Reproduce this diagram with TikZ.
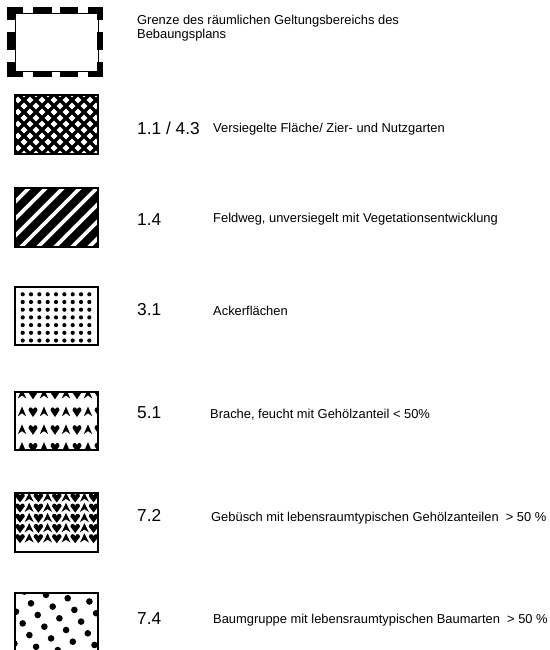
\documentclass[tikz,border=0pt]{standalone}
\usepackage{fontspec}
\setmainfont{Liberation Sans}
\usetikzlibrary{positioning}

\begin{document}
\begin{tikzpicture}[x=1pt,y=-1pt,
    legrand/.style={line width=1.2pt},
    nr/.style={anchor=base west,inner sep=0pt,font=\fontsize{17.3}{20}\selectfont},
    txt/.style={anchor=base west,inner sep=0pt,align=left,
      font=\fontsize{12.9}{13.4}\selectfont},
    spitze/.pic={\fill (0,-3.5) -- (2.8,3) -- (0,1) -- (-2.8,3) -- cycle;},
    herz/.pic={\fill (0,3.5) -- (-3,-1) .. controls (-3,-3.5) and (-0.5,-3.5) .. (0,-1.5)
      .. controls (0.5,-3.5) and (3,-3.5) .. (3,-1) -- cycle;}
  ]
  \useasboundingbox (0,0) rectangle (549,650);

  % Grenze des Geltungsbereichs
  \draw[line width=0.8pt] (15,13) rectangle (98,71);
  \foreach \a/\b in {7/23,33/52,60/78,88/103} {
    \fill (\a,7) rectangle (\b,13);
    \fill (\a,71) rectangle (\b,77);
  }
  \foreach \a/\b in {7/20,32/50,62/77} {
    \fill (7,\a) rectangle (15,\b);
    \fill (97,\a) rectangle (103,\b);
  }
  \node[txt] (grenze) at (137,38.3)
    {Grenze des räumlichen Geltungsbereichs des\\Bebaungsplans};

  % 1.1 / 4.3 Kreuzschraffur
  \begin{scope}
    \clip (15,95) rectangle (98,154);
    \foreach \a in {-60,-48,...,180} {
      \draw[line width=3.2pt] (\a,160) -- ++(70,-70);
      \draw[line width=3.2pt] (\a,160) -- ++(-70,-70);
    }
  \end{scope}
  \draw[line width=1.6pt] (15,95) rectangle (98,154);
  \node[nr] (n11) at (137,134.3) {1.1 / 4.3};
  \node[txt] (versiegelt) at (213,132.3) {Versiegelte Fläche/ Zier- und Nutzgarten};

  % 1.4 Streifen
  \fill (15,188) rectangle (98,247);
  \begin{scope}
    \clip (15,188) rectangle (98,247);
    \foreach \a in {-50,-33,...,110}
      \draw[white,line width=3.6pt] (\a,250) -- ++(70,-70);
  \end{scope}
  \draw[legrand] (15,188) rectangle (98,247);
  \node[nr] (n14) at (137,225) {1.4};
  \node[txt] (feldweg) at (213,222.7) {Feldweg, unversiegelt mit Vegetationsentwicklung};

  % 3.1 Punkte
  \foreach \i in {0,...,8}
    \foreach \j in {0,...,6}
      \fill (22.7+8.33*\i,294.3+7.7*\j) circle (2.1);
  \draw[legrand] (15,287) rectangle (98,345);
  \node[nr] (n31) at (137,315) {3.1};
  \node[txt] (acker) at (213,315) {Ackerflächen};

  % 5.1 Brache
  \begin{scope}
    \clip (15,392) rectangle (98,450);
    \foreach \j in {0,...,3}
      \foreach \i in {0,2,4,6} {
        \pic[scale=1.5] at (22+11*\i,394+17.8*\j) {spitze};
        \pic[scale=1.5] at (33+11*\i,394+17.8*\j) {herz};
      }
  \end{scope}
  \draw[legrand] (15,392) rectangle (98,450);
  \node[nr] (n51) at (137,418.3) {5.1};
  \node[txt] (brache) at (210,418.3) {Brache, feucht mit Gehölzanteil < 50\%};

  % 7.2 Gebuesch
  \begin{scope}
    \clip (15,493) rectangle (98,552);
    \foreach \j in {0,...,4}
      \foreach \i in {0,2,4,6,8} {
        \pic[xscale=1.6,yscale=1.4] at (20+9.2*\i,497.5+10.2*\j) {herz};
        \pic[xscale=1.6,yscale=1.4] at (29.2+9.2*\i,497.5+10.2*\j) {spitze};
      }
  \end{scope}
  \draw[legrand] (15,493) rectangle (98,552);
  \node[nr] (n72) at (137,521.7) {7.2};
  \node[txt] (gebuesch) at (211,521.7)
    {Gebüsch mit lebensraumtypischen Gehölzanteilen~~> 50 \%};

  % 7.4 Baumgruppe
  \begin{scope}
    \clip (15,593) rectangle (98,660);
    \foreach \i in {-1,...,4}
      \foreach \j in {-3,...,5}
        \fill ({16+21.7*\i+6.7*\j},{611.7+3.3*\i+11.7*\j}) circle (3.3);
  \end{scope}
  \draw[legrand] (15,650) |- (98,593) -- (98,650);
  \node[nr] (n74) at (137,624) {7.4};
  \node[txt] (baumgruppe) at (213,623.3)
    {Baumgruppe mit lebensraumtypischen Baumarten~~> 50 \%};
\end{tikzpicture}
\end{document}
